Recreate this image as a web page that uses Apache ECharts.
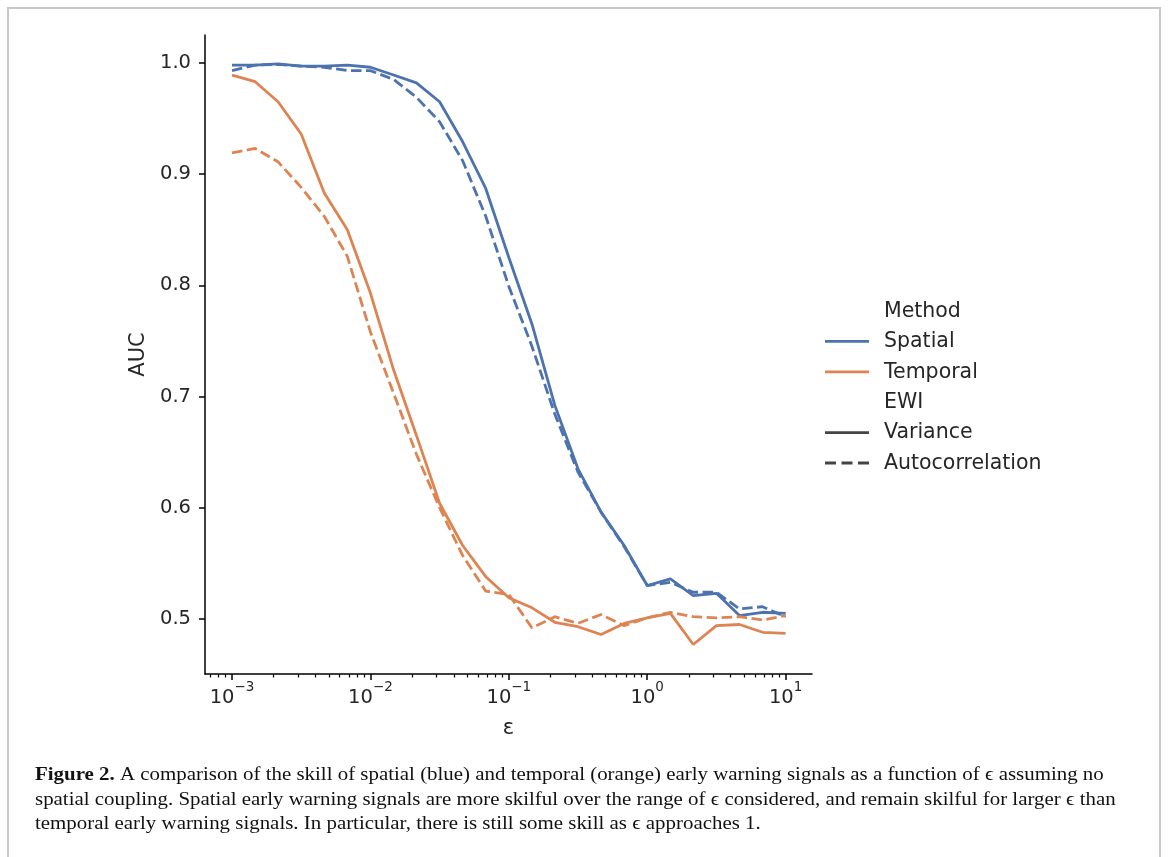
<!DOCTYPE html>
<html>
<head>
<meta charset="utf-8">
<script src="https://cdn.jsdelivr.net/npm/echarts@6/dist/echarts.min.js"></script>
<style>
  html, body { margin: 0; padding: 0; background: #fff; }
  #chart { width: 1170px; height: 857px; }
</style>
</head>
<body>
<div id="chart"></div>
<script>
// ---- data ----
const epsilon = [0.001, 0.00147, 0.00215, 0.00316, 0.00464, 0.00681,
                 0.01, 0.0147, 0.0215, 0.0316, 0.0464, 0.0681,
                 0.1, 0.147, 0.215, 0.316, 0.464, 0.681,
                 1, 1.47, 2.15, 3.16, 4.64, 6.81, 10];
const spatialVariance = [0.998, 0.998, 0.999, 0.997, 0.997, 0.998, 0.996, 0.989, 0.982, 0.965, 0.929, 0.887,
                         0.825, 0.765, 0.692, 0.635, 0.596, 0.566, 0.530, 0.536, 0.521, 0.523, 0.503, 0.506, 0.505];
const spatialAutocorr = [0.993, 0.998, 0.9985, 0.997, 0.996, 0.993, 0.993, 0.985, 0.969, 0.947, 0.912, 0.862,
                         0.799, 0.745, 0.684, 0.632, 0.596, 0.565, 0.530, 0.533, 0.524, 0.524, 0.509, 0.511, 0.502];
const temporalVariance = [0.989, 0.983, 0.965, 0.936, 0.883, 0.850, 0.793, 0.724, 0.665, 0.604, 0.566, 0.538,
                          0.519, 0.510, 0.497, 0.493, 0.486, 0.496, 0.501, 0.505, 0.477, 0.494, 0.495, 0.488, 0.487];
const temporalAutocorr = [0.919, 0.923, 0.911, 0.888, 0.862, 0.826, 0.758, 0.703, 0.648, 0.600, 0.557, 0.525,
                          0.522, 0.492, 0.502, 0.496, 0.504, 0.494, 0.501, 0.506, 0.502, 0.501, 0.502, 0.499, 0.503];
const xMajorTicks = [0.001, 0.01, 0.1, 1, 10];
const xMinorTicks = [0.0007, 0.0008, 0.0009,
                     0.002, 0.003, 0.004, 0.005, 0.006, 0.007, 0.008, 0.009,
                     0.02, 0.03, 0.04, 0.05, 0.06, 0.07, 0.08, 0.09,
                     0.2, 0.3, 0.4, 0.5, 0.6, 0.7, 0.8, 0.9,
                     2, 3, 4, 5, 6, 7, 8, 9];
const yTicks = [0.5, 0.6, 0.7, 0.8, 0.9, 1.0];
const methodNames = ['Spatial', 'Temporal'];
const ewiNames = ['Variance', 'Autocorrelation'];
const captionLines = [
  ['Figure 2.', ' A comparison of the skill of spatial (blue) and temporal (orange) early warning signals as a function of \u03f5 assuming no'],
  ['', 'spatial coupling. Spatial early warning signals are more skilful over the range of \u03f5 considered, and remain skilful for larger \u03f5 than'],
  ['', 'temporal early warning signals. In particular, there is still some skill as \u03f5 approaches 1.']
];

// ---- styling ----
const BLUE = '#4c72b0';
const ORANGE = '#dd8452';
const GRAY = '#444444';
const TXT = '#262626';
const FONT = 'DejaVu Sans';
const SERIF = 'Liberation Serif, DejaVu Serif, serif';
const LW = 2.8;
const DASH = [10.5, 4.5];
const TICK_FS = 19.5, LABEL_FS = 21, LEGEND_FS = 20.5;

function pairs(xs, ys) { return xs.map((x, i) => [x, ys[i]]); }
function supLabel(v) {
  const e = Math.round(Math.log10(v));
  const s = e < 0 ? '\u2212' + Math.abs(e) : String(e);
  return '{b|10}{s|' + s + '}';
}

const chart = echarts.init(document.getElementById('chart'), null, { renderer: 'canvas' });

const xAxisCommon = {
  type: 'log', logBase: 10, min: 0.000638, max: 15.5, gridIndex: 0, position: 'bottom',
  splitLine: { show: false }, minorTick: { show: false }, minorSplitLine: { show: false }
};

// legend drawn as graphic items
const legendX = 825, legendTextX = 884, legendY0 = 311, legendStep = 30.4;
const legendRows = [
  { text: 'Method' },
  { text: methodNames[0], color: BLUE },
  { text: methodNames[1], color: ORANGE },
  { text: 'EWI' },
  { text: ewiNames[0], color: GRAY },
  { text: ewiNames[1], color: GRAY, dash: true }
];
const graphics = [];
legendRows.forEach((r, i) => {
  const y = legendY0 + i * legendStep;
  graphics.push({
    type: 'text', x: legendTextX, y: y + 0.5,
    style: { text: r.text, font: LEGEND_FS + 'px ' + FONT, fill: TXT, textVerticalAlign: 'middle', verticalAlign: 'middle' }
  });
  if (r.color) {
    graphics.push({
      type: 'line', shape: { x1: legendX, y1: y, x2: legendX + 44, y2: y },
      style: { stroke: r.color, lineWidth: LW, lineDash: r.dash ? [11, 5.5] : null }
    });
  }
});
// caption
captionLines.forEach((ln, i) => {
  graphics.push({
    type: 'text', x: 35, y: 775.5 + i * 24.5, scaleX: 1.13,
    style: {
      text: (ln[0] ? '{bold|' + ln[0] + '}' : '') + '{n|' + ln[1] + '}',
      verticalAlign: 'middle', textVerticalAlign: 'middle',
      rich: {
        bold: { font: 'bold 18.5px ' + SERIF, fill: '#111' },
        n: { font: '18.5px ' + SERIF, fill: '#111' }
      }
    }
  });
});
// figure frame
graphics.push({
  type: 'rect', shape: { x: 8, y: 8, width: 1152, height: 870 },
  style: { fill: 'none', stroke: '#c8c8c8', lineWidth: 2 }, silent: true
});

const option = {
  animation: false,
  backgroundColor: '#ffffff',
  grid: { left: 205, right: 358, top: 35, bottom: 183, containLabel: false },
  xAxis: [
    Object.assign({}, xAxisCommon, {
      name: '\u03b5', nameLocation: 'middle', nameGap: 44,
      nameTextStyle: { fontFamily: FONT, fontSize: LABEL_FS, color: TXT },
      axisLine: { show: true, lineStyle: { color: '#000', width: 1.5 } },
      axisTick: { show: true, customValues: xMajorTicks, length: 6, lineStyle: { color: '#000', width: 1.5 } },
      axisLabel: {
        show: true, customValues: xMajorTicks, margin: 6,
        formatter: supLabel,
        rich: {
          b: { fontFamily: FONT, fontSize: TICK_FS, color: TXT, lineHeight: 28, verticalAlign: 'bottom' },
          s: { fontFamily: FONT, fontSize: 13.5, color: TXT, lineHeight: 28, verticalAlign: 'top' }
        }
      }
    }),
    Object.assign({}, xAxisCommon, {
      axisLine: { show: false },
      axisTick: { show: true, customValues: xMinorTicks, length: 3.5, lineStyle: { color: '#000', width: 1.2 } },
      axisLabel: { show: false }
    })
  ],
  yAxis: {
    type: 'value', min: 0.4505, max: 1.025,
    name: 'AUC', nameLocation: 'middle', nameGap: 56, nameRotate: 90,
    nameTextStyle: { fontFamily: FONT, fontSize: LABEL_FS, color: TXT },
    splitLine: { show: false },
    axisLine: { show: true, lineStyle: { color: '#000', width: 1.5 } },
    axisTick: { show: true, customValues: yTicks, length: 6, lineStyle: { color: '#000', width: 1.5 } },
    axisLabel: {
      show: true, customValues: yTicks, margin: 14,
      fontFamily: FONT, fontSize: TICK_FS, color: TXT,
      formatter: v => v.toFixed(1)
    }
  },
  series: [
    { name: 'Spatial – Variance', type: 'line', xAxisIndex: 0, data: pairs(epsilon, spatialVariance),
      showSymbol: false, lineStyle: { color: BLUE, width: LW }, itemStyle: { color: BLUE } },
    { name: 'Spatial – Autocorrelation', type: 'line', xAxisIndex: 0, data: pairs(epsilon, spatialAutocorr),
      showSymbol: false, lineStyle: { color: BLUE, width: LW, type: DASH }, itemStyle: { color: BLUE } },
    { name: 'Temporal – Variance', type: 'line', xAxisIndex: 0, data: pairs(epsilon, temporalVariance),
      showSymbol: false, lineStyle: { color: ORANGE, width: LW }, itemStyle: { color: ORANGE } },
    { name: 'Temporal – Autocorrelation', type: 'line', xAxisIndex: 0, data: pairs(epsilon, temporalAutocorr),
      showSymbol: false, lineStyle: { color: ORANGE, width: LW, type: DASH }, itemStyle: { color: ORANGE } }
  ],
  graphic: graphics
};
chart.setOption(option);
</script>
</body>
</html>
